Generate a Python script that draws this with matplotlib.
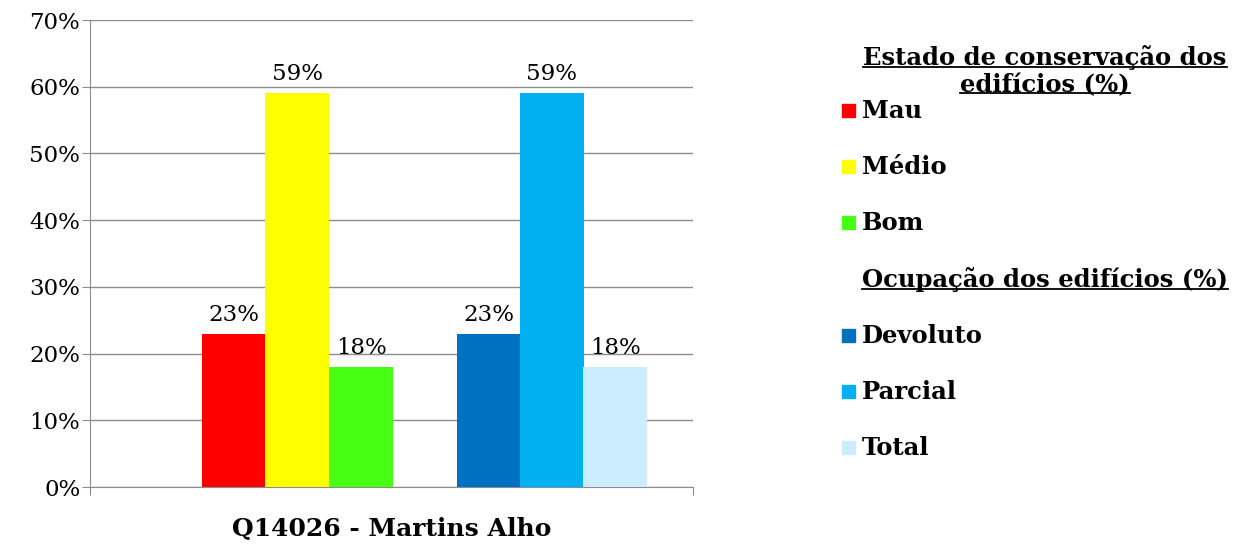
import matplotlib
matplotlib.use('Agg')
import matplotlib.pyplot as plt
from matplotlib.patches import Rectangle
from matplotlib.lines import Line2D

plt.rcParams['font.family'] = ['DejaVu Serif']

category = 'Q14026 - Martins Alho'

estado_labels = ['Mau', 'Médio', 'Bom']
estado_values = [23, 59, 18]
estado_colors = ['#FF0000', '#FFFF00', '#47FF12']

ocup_labels = ['Devoluto', 'Parcial', 'Total']
ocup_values = [23, 59, 18]
ocup_colors = ['#0070C0', '#00B0F0', '#CCECFF']

estado_title = 'Estado de conservação dos\nedifícios (%)'
ocup_title = 'Ocupação dos edifícios (%)'

W, H = 1236, 549
fig = plt.figure(figsize=(W / 100, H / 100), dpi=100)
ax = fig.add_axes([90 / W, 1 - 487 / H, 603 / W, 467 / H])

bw = 64 / 603
estado_x = [-0.262, -0.156, -0.050]
ocup_x = [0.161, 0.266, 0.371]

for xs, vals, cols in [(estado_x, estado_values, estado_colors),
                       (ocup_x, ocup_values, ocup_colors)]:
    ax.bar(xs, vals, width=bw, color=cols, zorder=3)
    for x, v in zip(xs, vals):
        ax.text(x, v + 1.2, f'{v}%', ha='center', va='bottom', fontsize=16.5)

ax.set_xlim(-0.5, 0.5)
ax.set_ylim(0, 70)
ax.set_yticks(range(0, 71, 10))
ax.set_yticklabels([f'{t}%' for t in range(0, 71, 10)], fontsize=16.5)
ax.yaxis.grid(True, color='#8C8C8C', linewidth=1)
ax.set_xticks([-0.5, 0.5])
ax.set_xticklabels(['', ''])
ax.tick_params(axis='x', length=6, color='#8C8C8C')
ax.tick_params(axis='y', length=6, color='#8C8C8C', pad=1)
for s in ['top', 'right']:
    ax.spines[s].set_visible(False)
for s in ['left', 'bottom']:
    ax.spines[s].set_color('#8C8C8C')
ax.text(0.5, -0.09, category, transform=ax.transAxes, ha='center', va='center',
        fontsize=18, fontweight='bold')

# legend drawn by hand
def fy(py):
    return 1 - py / H

FS = 17.5
t1 = fig.text(1045 / W, fy(71), estado_title, ha='center', va='center',
              fontsize=FS, fontweight='bold', linespacing=1.2, multialignment='center')
t2 = fig.text(1045 / W, fy(280), ocup_title, ha='center', va='center',
              fontsize=FS, fontweight='bold')
titles = [t1, t2]

entries = list(zip(estado_labels, estado_colors, [111, 167, 223])) + \
    list(zip(ocup_labels, ocup_colors, [336, 392, 448]))
for lab, col, py in entries:
    fig.patches.append(Rectangle((842 / W, fy(py + 6)), 13 / W, 13 / H,
                                 transform=fig.transFigure, color=col))
    fig.text(862 / W, fy(py), lab, ha='left', va='center', fontsize=FS,
             fontweight='bold')

# underline titles
fig.canvas.draw()
r = fig.canvas.get_renderer()
inv = fig.transFigure.inverted()
for t in titles:
    lines = t.get_text().split('\n')
    bb = t.get_window_extent(r)
    n = len(lines)
    lh = bb.height / n
    for i, line in enumerate(lines):
        tmp = fig.text(0, 0, line, fontsize=FS, fontweight='bold')
        lw = tmp.get_window_extent(r).width
        tmp.remove()
        cx = (bb.x0 + bb.x1) / 2
        yb = bb.y1 - (i + 1) * lh + 4
        (x0, y0) = inv.transform((cx - lw / 2, yb))
        (x1, _) = inv.transform((cx + lw / 2, yb))
        fig.lines.append(Line2D([x0, x1], [y0, y0], transform=fig.transFigure,
                                color='black', linewidth=1.3))

fig.savefig('out.png', dpi=100)
